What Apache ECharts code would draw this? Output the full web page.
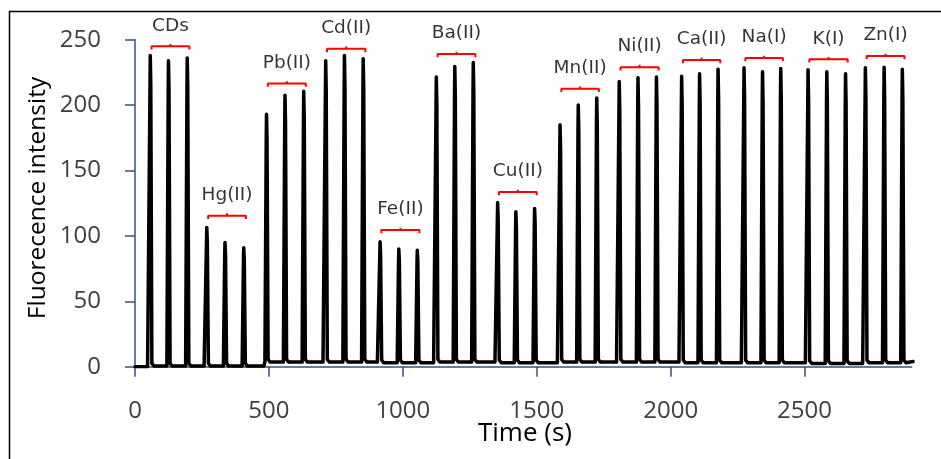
<!DOCTYPE html>
<html>
<head>
<meta charset="utf-8">
<script src="https://cdn.jsdelivr.net/npm/echarts@6/dist/echarts.min.js"></script>
<style>
html,body{margin:0;padding:0;background:#fff;}
#chart{width:941px;height:459px;}
</style>
</head>
<body>
<div id="chart"></div>
<script>
// Group labels
const groups = ["CDs","Hg(II)","Pb(II)","Cd(II)","Fe(II)","Ba(II)","Cu(II)","Mn(II)","Ni(II)","Ca(II)","Na(I)","K(I)","Zn(I)"];
// Peak times (s), three injections per group
const peakTimes = [
  [57,125,195],[268,336,406],[491,560,630],[712,782,852],[915,985,1054],
  [1125,1194,1263],[1354,1422,1492],[1587,1655,1724],[1808,1878,1947],
  [2041,2108,2177],[2274,2343,2411],[2513,2583,2653],[2727,2797,2865]
];
// Peak heights (fluorescence intensity)
const peakHeights = [
  [238,234,236],[106.5,95,91],[193,207.5,210.5],[234,238,235.5],[95.5,90,89],
  [221.5,229.5,232.5],[125.5,118.5,121],[185,200,205.5],[218,221,221.5],
  [222,224,227.5],[228.5,225.5,228],[227,225.5,224],[228.5,229,227.5]
];
// Baseline level for each group
const baseLevels = [0.5,0.5,3.5,3.5,3,3.5,3,3.5,3.5,3,3,2.5,3];
// Bracket (red) level for each group
const bracketLevels = [245,115.5,216.5,243,104.5,239,133.5,212.5,229,234.5,236,235,237.5];
const xTicks = [0,500,1000,1500,2000,2500];
const yTicks = [0,50,100,150,200,250];

// Build trace
const trace = [[0,0]];
let prevBase = 0;
peakTimes.forEach((ts,g)=>{
  const b = baseLevels[g];
  trace.push([ts[0]-10, prevBase]);
  ts.forEach((t,i)=>{
    trace.push([t-6,b]);
    trace.push([t-1,peakHeights[g][i]*0.9]);
    trace.push([t,peakHeights[g][i]]);
    trace.push([t+2,peakHeights[g][i]*0.9]);
    trace.push([t+6,b+2]);
    trace.push([t+14,b]);
  });
  prevBase = b;
});
trace.push([2905,4]);

const series = [{
  type:'line', data:trace, showSymbol:false, symbol:'none', animation:false,
  lineStyle:{color:'#000',width:3.5,cap:'round',join:'round'}, z:3
}];
peakTimes.forEach((ts,g)=>{
  const y = bracketLevels[g];
  const x1 = ts[0]+5, x2 = ts[2]+8, xm = (x1+x2)/2;
  series.push({
    type:'line', symbol:'none', animation:false, z:4,
    lineStyle:{color:'#ff0000',width:2},
    data:[[x1,y-2.5],[x1,y],[xm,y],[xm,y+1.8],[xm,y],[x2,y],[x2,y-2.5]]
  });
});
series.push({
  type:'scatter', symbolSize:0, animation:false, z:5,
  data: groups.map((n,g)=>({value:[(peakTimes[g][0]+5+peakTimes[g][2]+8)/2, bracketLevels[g]], name:n})),
  label:{show:true, position:'top', distance:11, formatter:p=>p.name,
    color:'#000', fontSize:18.5, fontFamily:'DejaVu Sans'}
});

const chart = echarts.init(document.getElementById('chart'));
chart.setOption({
  animation:false,
  backgroundColor:'#fff',
  grid:{left:135, right:29.3, top:39.7, bottom:92.3},
  xAxis:{
    type:'value', min:0, max:2900, interval:500,
    axisLine:{show:true, lineStyle:{color:'#35507F', width:1.5}},
    axisTick:{show:true, length:10, inside:false, customValues:xTicks, lineStyle:{color:'#35507F', width:1.5}},
    axisLabel:{customValues:xTicks, margin:32, fontSize:24, color:'#404040', fontFamily:'Open Sans', formatter:v=>String(v)},
    splitLine:{show:false}
  },
  yAxis:{
    type:'value', min:0, max:250, interval:50,
    axisLine:{show:true, lineStyle:{color:'#35507F', width:1.5}},
    axisTick:{show:true, length:10, customValues:yTicks, lineStyle:{color:'#35507F', width:1.5}},
    axisLabel:{customValues:yTicks, margin:34, fontSize:24, color:'#404040', fontFamily:'Open Sans', padding:[0,0,4,0], formatter:v=>String(v)},
    splitLine:{show:false}
  },
  graphic:[
    {type:'rect', shape:{x:9.5,y:11.5,width:1000,height:1000}, style:{fill:'none', stroke:'#000', lineWidth:1.5}, silent:true},
    {type:'text', x:38.5, y:198, rotation:Math.PI/2, style:{text:'Fluorecence intensity', font:'24.5px "Open Sans"', fill:'#000', align:'center', verticalAlign:'middle'}, silent:true},
    {type:'text', x:525, y:434, style:{text:'Time (s)', font:'26px "Open Sans"', fill:'#000', align:'center', verticalAlign:'middle'}, silent:true}
  ],
  series:series
});
</script>
</body>
</html>
